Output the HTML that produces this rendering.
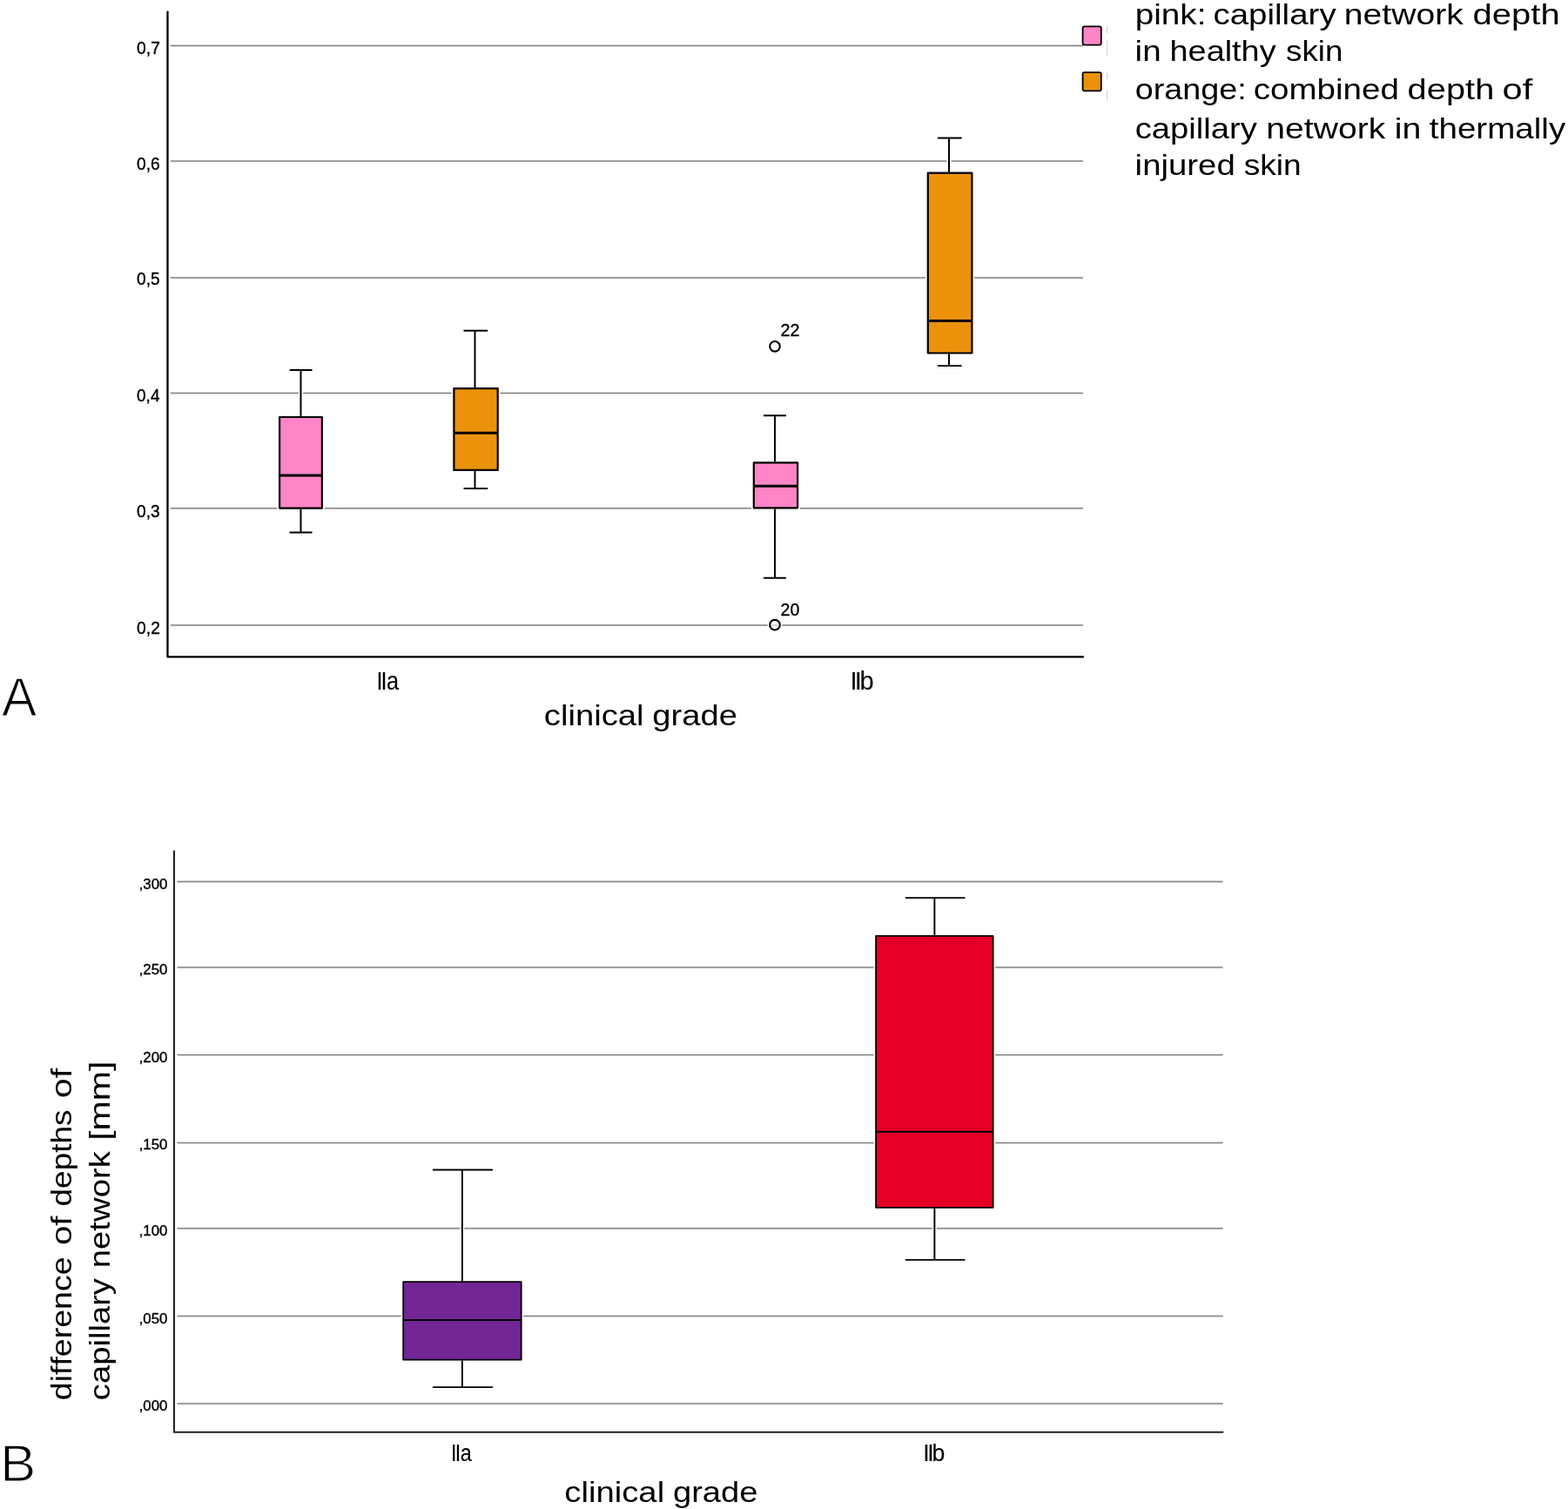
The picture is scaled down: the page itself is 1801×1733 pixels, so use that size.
<!DOCTYPE html>
<html lang="en">
<head>
<meta charset="utf-8">
<title>Capillary network depth by clinical grade</title>
<style>
html,body{margin:0;padding:0;background:#fff;}
body{width:1801px;height:1733px;overflow:hidden;}
svg{display:block;}
text{font-family:"Liberation Sans",Arial,Helvetica,sans-serif;font-kerning:none;font-variant-ligatures:none;white-space:pre;}
.tick{stroke:#000;stroke-width:0.35px;}
.big{stroke:#fff;stroke-width:1.25px;stroke-linejoin:round;}
.cat{stroke:#000;stroke-width:0.1px;}
</style>
</head>
<body>
<svg width="1801" height="1733" viewBox="0 0 1801 1733">
<rect x="0" y="0" width="1801" height="1733" fill="#fff"/>
<g id="chartA">
<line x1="195.8" y1="52.5" x2="1244" y2="52.5" stroke="#8a8686" stroke-width="3" stroke-opacity="0.14"/>
<line x1="195.8" y1="52.5" x2="1244" y2="52.5" stroke="#8a8686" stroke-width="1.45"/>
<line x1="195.8" y1="185.0" x2="1244" y2="185.0" stroke="#8a8686" stroke-width="3" stroke-opacity="0.14"/>
<line x1="195.8" y1="185.0" x2="1244" y2="185.0" stroke="#8a8686" stroke-width="1.45"/>
<line x1="195.8" y1="319.0" x2="1244" y2="319.0" stroke="#8a8686" stroke-width="3" stroke-opacity="0.14"/>
<line x1="195.8" y1="319.0" x2="1244" y2="319.0" stroke="#8a8686" stroke-width="1.45"/>
<line x1="195.8" y1="451.5" x2="1244" y2="451.5" stroke="#8a8686" stroke-width="3" stroke-opacity="0.14"/>
<line x1="195.8" y1="451.5" x2="1244" y2="451.5" stroke="#8a8686" stroke-width="1.45"/>
<line x1="195.8" y1="583.8" x2="1244" y2="583.8" stroke="#8a8686" stroke-width="3" stroke-opacity="0.14"/>
<line x1="195.8" y1="583.8" x2="1244" y2="583.8" stroke="#8a8686" stroke-width="1.45"/>
<line x1="195.8" y1="718.0" x2="1244" y2="718.0" stroke="#8a8686" stroke-width="3" stroke-opacity="0.14"/>
<line x1="195.8" y1="718.0" x2="1244" y2="718.0" stroke="#8a8686" stroke-width="1.45"/>
<polyline points="192.5,13.6 192.5,754.4 1244,754.4" fill="none" stroke="#000" stroke-width="2.25" stroke-linejoin="round" stroke-linecap="round"/>
<text y="62.3" font-size="20.3" fill="#000" class="tick"><tspan x="157.05" textLength="26.82" lengthAdjust="spacingAndGlyphs">0,7</tspan></text>
<text y="194.6" font-size="20.3" fill="#000" class="tick"><tspan x="157.05" textLength="26.69" lengthAdjust="spacingAndGlyphs">0,6</tspan></text>
<text y="327.1" font-size="20.3" fill="#000" class="tick"><tspan x="157.05" textLength="26.65" lengthAdjust="spacingAndGlyphs">0,5</tspan></text>
<text y="460.9" font-size="20.3" fill="#000" class="tick"><tspan x="157.06" textLength="26.40" lengthAdjust="spacingAndGlyphs">0,4</tspan></text>
<text y="593.6" font-size="20.3" fill="#000" class="tick"><tspan x="157.05" textLength="26.69" lengthAdjust="spacingAndGlyphs">0,3</tspan></text>
<text y="727.7" font-size="20.3" fill="#000" class="tick"><tspan x="157.05" textLength="26.82" lengthAdjust="spacingAndGlyphs">0,2</tspan></text>
<rect x="318.40" y="476.70" width="54.20" height="109.20" fill="#fff"/>
<rect x="343.00" y="425.00" width="5.00" height="186.50" fill="#fff"/>
<line x1="345.5" y1="425.0" x2="345.5" y2="477.9" stroke="#000" stroke-width="2.0"/>
<line x1="345.5" y1="584.7" x2="345.5" y2="611.5" stroke="#000" stroke-width="2.0"/>
<line x1="333.3" y1="425.0" x2="357.8" y2="425.0" stroke="#000" stroke-width="1.9" stroke-linecap="round"/>
<line x1="333.3" y1="611.5" x2="357.8" y2="611.5" stroke="#000" stroke-width="1.9" stroke-linecap="round"/>
<rect x="321.10" y="479.00" width="48.80" height="104.60" fill="#ff85c6" stroke="#000" stroke-width="2.2" stroke-linejoin="round"/>
<line x1="321.1" y1="546.1" x2="369.9" y2="546.1" stroke="#000" stroke-width="3.0"/>
<rect x="518.70" y="443.80" width="55.70" height="98.40" fill="#fff"/>
<rect x="543.00" y="379.70" width="5.00" height="181.30" fill="#fff"/>
<line x1="545.5" y1="379.7" x2="545.5" y2="445.0" stroke="#000" stroke-width="2.0"/>
<line x1="545.5" y1="541.0" x2="545.5" y2="561.0" stroke="#000" stroke-width="2.0"/>
<line x1="533.3" y1="379.7" x2="559.5" y2="379.7" stroke="#000" stroke-width="1.9" stroke-linecap="round"/>
<line x1="533.3" y1="561.0" x2="559.5" y2="561.0" stroke="#000" stroke-width="1.9" stroke-linecap="round"/>
<rect x="521.40" y="446.10" width="50.30" height="93.80" fill="#eb920a" stroke="#000" stroke-width="2.2" stroke-linejoin="round"/>
<line x1="521.4" y1="497.3" x2="571.6999999999999" y2="497.3" stroke="#000" stroke-width="3.0"/>
<rect x="863.10" y="529.00" width="55.70" height="56.60" fill="#fff"/>
<rect x="887.50" y="477.30" width="5.00" height="186.50" fill="#fff"/>
<line x1="890.0" y1="477.3" x2="890.0" y2="530.2" stroke="#000" stroke-width="2.0"/>
<line x1="890.0" y1="584.4" x2="890.0" y2="663.8" stroke="#000" stroke-width="2.0"/>
<line x1="877.6999999999999" y1="477.3" x2="902.2" y2="477.3" stroke="#000" stroke-width="1.9" stroke-linecap="round"/>
<line x1="877.6999999999999" y1="663.8" x2="902.2" y2="663.8" stroke="#000" stroke-width="1.9" stroke-linecap="round"/>
<rect x="865.80" y="531.30" width="50.30" height="52.00" fill="#ff85c6" stroke="#000" stroke-width="2.2" stroke-linejoin="round"/>
<line x1="865.8000000000001" y1="558.3" x2="916.1" y2="558.3" stroke="#000" stroke-width="3.0"/>
<rect x="1063.10" y="196.30" width="56.00" height="211.50" fill="#fff"/>
<rect x="1087.50" y="158.50" width="5.00" height="261.60" fill="#fff"/>
<line x1="1090.0" y1="158.5" x2="1090.0" y2="197.5" stroke="#000" stroke-width="2.0"/>
<line x1="1090.0" y1="406.6" x2="1090.0" y2="420.1" stroke="#000" stroke-width="2.0"/>
<line x1="1077.7" y1="158.5" x2="1103.9" y2="158.5" stroke="#000" stroke-width="1.9" stroke-linecap="round"/>
<line x1="1077.7" y1="420.1" x2="1103.9" y2="420.1" stroke="#000" stroke-width="1.9" stroke-linecap="round"/>
<rect x="1065.80" y="198.60" width="50.60" height="206.90" fill="#eb920a" stroke="#000" stroke-width="2.2" stroke-linejoin="round"/>
<line x1="1065.8" y1="368.6" x2="1116.4" y2="368.6" stroke="#000" stroke-width="3.0"/>
<circle cx="890" cy="397.8" r="8.2" fill="#fff"/>
<circle cx="890" cy="397.8" r="5.8" fill="none" stroke="#000" stroke-width="2.1"/>
<text y="385.9" font-size="20.3" fill="#000" class="tick"><tspan x="896.51" textLength="21.99" lengthAdjust="spacingAndGlyphs">22</tspan></text>
<circle cx="890" cy="717.7" r="8.2" fill="#fff"/>
<line x1="886.5" y1="718.0" x2="893.5" y2="718.0" stroke="#c9c5c5" stroke-width="1.45"/>
<circle cx="890" cy="717.7" r="5.8" fill="none" stroke="#000" stroke-width="2.1"/>
<text y="706.9" font-size="20.3" fill="#000" class="tick"><tspan x="896.52" textLength="21.75" lengthAdjust="spacingAndGlyphs">20</tspan></text>
<text x="512.64 518.57 526.23" y="791.7" font-size="30" fill="#000" transform="scale(0.8436,1)" class="cat">IIa</text>
<text x="1005.78 1011.13 1017.12" y="791.7" font-size="30" fill="#000" transform="scale(0.9710,1)" class="cat">IIb</text>
<text y="832.5" font-size="34" fill="#000"><tspan x="624.78" textLength="114.78" lengthAdjust="spacingAndGlyphs">clinical</tspan> <tspan x="749.30" textLength="97.70" lengthAdjust="spacingAndGlyphs">grade</tspan></text>
<text y="822.3" font-size="62.1" fill="#000" class="big"><tspan x="2.08" textLength="40.14" lengthAdjust="spacingAndGlyphs">A</tspan></text>
<rect x="1243.6" y="30.4" width="21.2" height="21.2" rx="2" ry="2" fill="#ff85c6" stroke="#000" stroke-width="1.8"/>
<rect x="1243.6" y="83.10000000000001" width="21.2" height="21.2" rx="2" ry="2" fill="#eb920a" stroke="#000" stroke-width="1.8"/>
<line x1="1271.5" y1="30.3" x2="1271.5" y2="38.1" stroke="#d0d0d0" stroke-width="1"/>
<line x1="1271.5" y1="46.7" x2="1271.5" y2="63.6" stroke="#d0d0d0" stroke-width="1"/>
<line x1="1271.5" y1="83.1" x2="1271.5" y2="90.9" stroke="#d0d0d0" stroke-width="1"/>
<line x1="1271.5" y1="104.3" x2="1271.5" y2="115.6" stroke="#d0d0d0" stroke-width="1"/>
<text y="27.5" font-size="34" fill="#000"><tspan x="1303.71" textLength="81.73" lengthAdjust="spacingAndGlyphs">pink:</tspan> <tspan x="1393.46" textLength="141.21" lengthAdjust="spacingAndGlyphs">capillary</tspan> <tspan x="1543.80" textLength="136.94" lengthAdjust="spacingAndGlyphs">network</tspan> <tspan x="1691.62" textLength="100.08" lengthAdjust="spacingAndGlyphs">depth</tspan></text>
<text y="70.3" font-size="34" fill="#000"><tspan x="1303.61" textLength="30.10" lengthAdjust="spacingAndGlyphs">in</tspan> <tspan x="1343.58" textLength="122.00" lengthAdjust="spacingAndGlyphs">healthy</tspan> <tspan x="1477.08" textLength="65.41" lengthAdjust="spacingAndGlyphs">skin</tspan></text>
<text y="114.3" font-size="34" fill="#000"><tspan x="1303.71" textLength="128.14" lengthAdjust="spacingAndGlyphs">orange:</tspan> <tspan x="1439.66" textLength="167.22" lengthAdjust="spacingAndGlyphs">combined</tspan> <tspan x="1616.63" textLength="99.66" lengthAdjust="spacingAndGlyphs">depth</tspan> <tspan x="1725.55" textLength="34.69" lengthAdjust="spacingAndGlyphs">of</tspan></text>
<text y="158.6" font-size="34" fill="#000"><tspan x="1303.68" textLength="140.10" lengthAdjust="spacingAndGlyphs">capillary</tspan> <tspan x="1454.30" textLength="136.94" lengthAdjust="spacingAndGlyphs">network</tspan> <tspan x="1601.77" textLength="30.58" lengthAdjust="spacingAndGlyphs">in</tspan> <tspan x="1641.72" textLength="156.46" lengthAdjust="spacingAndGlyphs">thermally</tspan></text>
<text y="201.1" font-size="34" fill="#000"><tspan x="1303.63" textLength="115.14" lengthAdjust="spacingAndGlyphs">injured</tspan> <tspan x="1428.77" textLength="65.94" lengthAdjust="spacingAndGlyphs">skin</tspan></text>
</g>
<g id="chartB">
<line x1="203.6" y1="1012.5" x2="1404.6" y2="1012.5" stroke="#8a8686" stroke-width="3" stroke-opacity="0.14"/>
<line x1="203.6" y1="1012.5" x2="1404.6" y2="1012.5" stroke="#8a8686" stroke-width="1.45"/>
<line x1="203.6" y1="1111.0" x2="1404.6" y2="1111.0" stroke="#8a8686" stroke-width="3" stroke-opacity="0.14"/>
<line x1="203.6" y1="1111.0" x2="1404.6" y2="1111.0" stroke="#8a8686" stroke-width="1.45"/>
<line x1="203.6" y1="1211.5" x2="1404.6" y2="1211.5" stroke="#8a8686" stroke-width="3" stroke-opacity="0.14"/>
<line x1="203.6" y1="1211.5" x2="1404.6" y2="1211.5" stroke="#8a8686" stroke-width="1.45"/>
<line x1="203.6" y1="1312.45" x2="1404.6" y2="1312.45" stroke="#8a8686" stroke-width="3" stroke-opacity="0.14"/>
<line x1="203.6" y1="1312.45" x2="1404.6" y2="1312.45" stroke="#8a8686" stroke-width="1.45"/>
<line x1="203.6" y1="1410.8" x2="1404.6" y2="1410.8" stroke="#8a8686" stroke-width="3" stroke-opacity="0.14"/>
<line x1="203.6" y1="1410.8" x2="1404.6" y2="1410.8" stroke="#8a8686" stroke-width="1.45"/>
<line x1="203.6" y1="1511.45" x2="1404.6" y2="1511.45" stroke="#8a8686" stroke-width="3" stroke-opacity="0.14"/>
<line x1="203.6" y1="1511.45" x2="1404.6" y2="1511.45" stroke="#8a8686" stroke-width="1.45"/>
<line x1="203.6" y1="1612.0" x2="1404.6" y2="1612.0" stroke="#8a8686" stroke-width="3" stroke-opacity="0.14"/>
<line x1="203.6" y1="1612.0" x2="1404.6" y2="1612.0" stroke="#8a8686" stroke-width="1.45"/>
<polyline points="200.0,977.4 200.0,1644.65 1404.5,1644.65" fill="none" stroke="#222" stroke-width="2.05" stroke-linejoin="round" stroke-linecap="round"/>
<text y="1020.5" font-size="16.1" fill="#000" class="tick"><tspan x="159.69" textLength="32.77" lengthAdjust="spacingAndGlyphs">,300</tspan></text>
<text y="1119.3" font-size="16.1" fill="#000" class="tick"><tspan x="159.69" textLength="32.77" lengthAdjust="spacingAndGlyphs">,250</tspan></text>
<text y="1219.7" font-size="16.1" fill="#000" class="tick"><tspan x="159.69" textLength="32.77" lengthAdjust="spacingAndGlyphs">,200</tspan></text>
<text y="1320.0" font-size="16.1" fill="#000" class="tick"><tspan x="159.69" textLength="32.77" lengthAdjust="spacingAndGlyphs">,150</tspan></text>
<text y="1419.0" font-size="16.1" fill="#000" class="tick"><tspan x="159.69" textLength="32.77" lengthAdjust="spacingAndGlyphs">,100</tspan></text>
<text y="1519.6" font-size="16.1" fill="#000" class="tick"><tspan x="159.69" textLength="32.77" lengthAdjust="spacingAndGlyphs">,050</tspan></text>
<text y="1620.2" font-size="16.1" fill="#000" class="tick"><tspan x="159.69" textLength="32.77" lengthAdjust="spacingAndGlyphs">,000</tspan></text>
<rect x="460.70" y="1470.00" width="140.50" height="93.70" fill="#fff"/>
<rect x="528.45" y="1343.50" width="4.90" height="249.70" fill="#fff"/>
<line x1="530.9" y1="1343.5" x2="530.9" y2="1471.2" stroke="#000" stroke-width="1.9"/>
<line x1="530.9" y1="1562.5" x2="530.9" y2="1593.2" stroke="#000" stroke-width="1.9"/>
<line x1="497.7" y1="1343.5" x2="565.3000000000001" y2="1343.5" stroke="#000" stroke-width="1.805" stroke-linecap="round"/>
<line x1="497.7" y1="1593.2" x2="565.3000000000001" y2="1593.2" stroke="#000" stroke-width="1.805" stroke-linecap="round"/>
<rect x="463.20" y="1472.10" width="135.50" height="89.50" fill="#722694" stroke="#000" stroke-width="1.8" stroke-linejoin="round"/>
<line x1="463.2" y1="1516.1" x2="598.7" y2="1516.1" stroke="#000" stroke-width="2.0"/>
<rect x="1003.60" y="1072.80" width="139.50" height="316.10" fill="#fff"/>
<rect x="1070.95" y="1031.10" width="4.90" height="415.70" fill="#fff"/>
<line x1="1073.4" y1="1031.1" x2="1073.4" y2="1074.0" stroke="#000" stroke-width="1.9"/>
<line x1="1073.4" y1="1387.7" x2="1073.4" y2="1446.8" stroke="#000" stroke-width="1.9"/>
<line x1="1040.5" y1="1031.1" x2="1107.8" y2="1031.1" stroke="#000" stroke-width="1.805" stroke-linecap="round"/>
<line x1="1040.5" y1="1446.8" x2="1107.8" y2="1446.8" stroke="#000" stroke-width="1.805" stroke-linecap="round"/>
<rect x="1006.10" y="1074.90" width="134.50" height="311.90" fill="#e50025" stroke="#000" stroke-width="1.8" stroke-linejoin="round"/>
<line x1="1006.1" y1="1299.7" x2="1140.6" y2="1299.7" stroke="#000" stroke-width="2.0"/>
<text x="621.03 626.66 633.69" y="1678.5" font-size="28" fill="#000" transform="scale(0.8343,1)" class="cat">IIa</text>
<text x="1112.63 1117.67 1123.38" y="1678.5" font-size="28" fill="#000" transform="scale(0.9530,1)" class="cat">IIb</text>
<text y="1725.3" font-size="34" fill="#000"><tspan x="648.38" textLength="114.78" lengthAdjust="spacingAndGlyphs">clinical</tspan> <tspan x="772.90" textLength="97.70" lengthAdjust="spacingAndGlyphs">grade</tspan></text>
<text y="1700.85" font-size="60.0" fill="#000" class="big"><tspan x="-0.04" textLength="41.36" lengthAdjust="spacingAndGlyphs">B</tspan></text>
<text y="0" font-size="34" fill="#000" transform="translate(82.4,1606.6) rotate(-90)"><tspan x="-1.58" textLength="164.74" lengthAdjust="spacingAndGlyphs">difference</tspan> <tspan x="176.51" textLength="33.63" lengthAdjust="spacingAndGlyphs">of</tspan> <tspan x="221.15" textLength="110.99" lengthAdjust="spacingAndGlyphs">depths</tspan> <tspan x="345.47" textLength="34.37" lengthAdjust="spacingAndGlyphs">of</tspan></text>
<text y="0" font-size="34" fill="#000" transform="translate(126.4,1606.6) rotate(-90)"><tspan x="-1.62" textLength="140.20" lengthAdjust="spacingAndGlyphs">capillary</tspan> <tspan x="150.36" textLength="134.09" lengthAdjust="spacingAndGlyphs">network</tspan> <tspan x="296.78" textLength="91.15" lengthAdjust="spacingAndGlyphs">[mm]</tspan></text>
</g>
</svg>
</body>
</html>
